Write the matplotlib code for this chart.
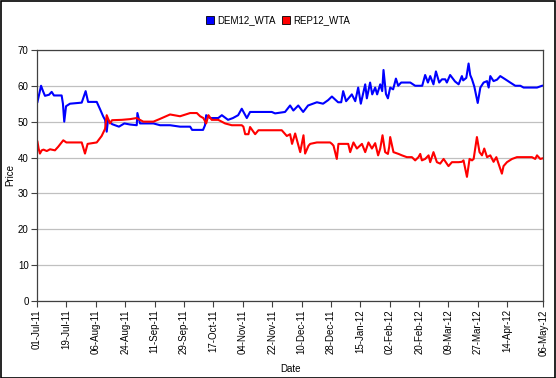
import matplotlib
matplotlib.use('Agg')
import matplotlib.pyplot as plt
from matplotlib.patches import Patch
import pandas as pd

plt.rcParams['font.family'] = ['Liberation Sans', 'DejaVu Sans']

start_date = '2011-07-01'
end_date = '2012-05-06'

# days after 01-Jul-11, price
dem_days = [0.3, 2.5, 3.7, 4.9, 7.4, 9, 10.4, 15.1, 15.9, 16.7, 17.8, 20.2, 27.4, 29.8, 31.3,
            36.6, 38.6, 40.6, 41.7, 42.7, 43.5, 46, 47.8, 50.2, 53.5, 57, 61.1, 61.5, 63.1,
            71.3, 75.4, 81.5, 87.6, 93.8, 95, 101.7, 102.9, 103.6, 106, 111, 113.2, 117, 120,
            123.2, 125.4, 128.5, 130.5, 136.6, 143.8, 145.8, 151.9, 155, 157, 160, 163, 166,
            171.4, 175.2, 178.3, 180.6, 184.4, 186.3, 187.5, 189.3, 192.8, 194.9, 196.7, 198.3,
            201, 202, 204, 205.3, 207.1, 208.3, 210.2, 211.4, 212.2, 213.7, 214.9, 216.3, 218.1,
            219.8, 221.2, 223, 228.6, 231.6, 235.9, 237.7, 239.4, 240.8, 242.8, 244.3, 246.3,
            248, 250, 251, 253, 256, 258.2, 260.2, 261, 262.9, 264.3, 265.3, 266.4, 267.8,
            269.9, 271.5, 273.5, 275.6, 276.6, 277.6, 279.6, 281.7, 283.7, 286.8, 289.8, 292.9,
            296, 298, 306.2, 309.3]
dem_price = [55.5, 60, 58.5, 57.2, 57.5, 58.3, 57.3, 57.3, 55, 50, 54.3, 55, 55.3, 58.5, 55.5,
             55.5, 53.5, 51.4, 50.5, 47.2, 50.5, 49.3, 49, 48.6, 49.5, 49.2, 49, 52.4, 49.5,
             49.5, 49, 49, 48.6, 48.6, 47.7, 47.7, 49, 51.8, 51, 51, 51.8, 50.5, 51,
             51.8, 53.6, 51, 52.7, 52.7, 52.7, 52.3, 52.7, 54.5, 53.1, 54.5, 52.7, 54.5,
             55.4, 55, 56, 57, 55.4, 55.4, 58.5, 55.7, 57.6, 55.7, 59.5, 55,
             60.4, 56.5, 60.9, 57.6, 59.5, 57.6, 60.4, 58.5, 64.4, 57.7, 56.5, 59.5, 59,
             62, 60, 60.9, 60.9, 60, 60, 63, 60.9, 62.7, 60.4, 64, 60.9,
             61.8, 61.8, 60.9, 63, 61.2, 60.4, 62.7, 61.5, 62.2, 66.2, 63, 61.8, 59.8,
             55.2, 59.5, 60.9, 61.3, 59.5, 62.7, 61.3, 61.7, 62.7, 61.8, 60.9, 60,
             60, 59.5, 59.5, 60]

rep_days = [0.3, 1, 1.8, 2.9, 4, 6, 8, 11, 13, 16.1, 18, 27.4, 28.5, 29.4, 31, 36.6, 39.6,
            41.7, 42.7, 44.7, 46, 51.9, 57, 61, 65.1, 71.3, 75, 81.5, 87.6, 93.8, 97.9, 99.9,
            101.9, 103.6, 105, 107, 111, 115.2, 119.3, 125.4, 126.4, 127.5, 129.5, 130.5,
            133.6, 135.6, 149.9, 153, 155, 156.2, 158.1, 161.2, 163.2, 164.2, 166.3, 167.3,
            171.4, 179.5, 180.6, 181.6, 183.6, 184.6, 187.5, 190.6, 191.8, 193.8, 195.9, 199,
            201, 203, 205.1, 207.1, 208.9, 210.2, 211.6, 213.2, 214.9, 215.7, 216.3, 218.3,
            221.4, 223.5, 226.5, 229.6, 231.6, 233.6, 234.7, 235.7, 237.7, 239.8, 240.8,
            242.8, 244.9, 246.9, 249, 252, 254.1, 258.2, 260.2, 261.2, 263.3, 264.9, 266.4,
            267.4, 269.4, 271, 272.5, 273.9, 275.6, 277.6, 279.6, 281.3, 284.7, 285.7, 287.8,
            290.9, 293.9, 303.1, 305.1, 306.2, 308.2, 309.9]
rep_price = [44.4, 42.5, 41.1, 42, 42.2, 41.8, 42.3, 42, 43, 44.8, 44.2, 44.2, 42.5, 41.1, 43.8,
             44.2, 46, 48, 51.8, 49.5, 50.4, 50.5, 50.7, 51, 50, 50, 50.7, 52, 51.5, 52.4, 52.4,
             51.5, 51, 49.5, 51.8, 50.5, 50.5, 49.5, 49, 49, 48.6, 46.5, 46.5, 48.5,
             46.5, 47.6, 47.6, 46, 46.5, 43.8, 46.7, 41.5, 46.2, 41.1, 43.3, 43.8,
             44.2, 44.2, 43.8, 43.3, 39.6, 43.8, 43.8, 43.8, 41.5, 44.2, 42.5, 43.8,
             41.5, 44.2, 42.5, 44, 40.6, 42.5, 46.2, 41.5, 41, 43, 45.7, 41.5,
             41, 40.6, 40.1, 40.1, 39.2, 40.1, 41, 39.2, 39.6, 40.6, 38.7,
             41.5, 38.7, 38.3, 39.6, 37.6, 38.7, 38.7, 38.8, 39.2, 34.6, 39.6, 39.2,
             39.6, 45.7, 41.5, 40.6, 42.5, 40.1, 40.6, 38.8, 40.1, 35.5, 37.6, 38.7,
             39.6, 40.1, 40.1, 39.6, 40.6, 39.6, 39.8]

tick_labels = ['01-Jul-11', '19-Jul-11', '06-Aug-11', '24-Aug-11', '11-Sep-11', '29-Sep-11',
               '17-Oct-11', '04-Nov-11', '22-Nov-11', '10-Dec-11', '28-Dec-11', '15-Jan-12',
               '02-Feb-12', '20-Feb-12', '09-Mar-12', '27-Mar-12', '14-Apr-12', '06-May-12']


def to_dates(days):
    return pd.Timestamp(start_date) + pd.to_timedelta(days, unit='D')


fig = plt.figure(figsize=(5.56, 3.78), dpi=100)
ax = fig.add_axes([0.0665, 0.2037, 0.9105, 0.6643])

ax.plot(to_dates(dem_days), dem_price, color='#0000FF', lw=1.5, label='DEM12_WTA')
ax.plot(to_dates(rep_days), rep_price, color='#FF0000', lw=1.5, label='REP12_WTA')

ax.set_xlim(pd.Timestamp(start_date), pd.Timestamp(end_date))
ax.set_ylim(0, 70)
ax.set_yticks(range(0, 71, 10))
ax.yaxis.grid(True, color='#C0C0C0', lw=0.9)
ax.set_axisbelow(True)

ticks = pd.to_datetime(tick_labels, format='%d-%b-%y')
ax.set_xticks(ticks)
ax.set_xticklabels(tick_labels, rotation=90)

ax.tick_params(axis='both', labelsize=7, length=4, width=0.8, color='#404040', pad=2)
for s in ax.spines.values():
    s.set_color('#404040')
    s.set_linewidth(0.9)

ax.set_xlabel('Date', fontsize=7, labelpad=6)
ax.set_ylabel('Price', fontsize=7, labelpad=2)

handles = [Patch(facecolor='#0000FF', edgecolor='black', lw=0.6),
           Patch(facecolor='#FF0000', edgecolor='black', lw=0.6)]
fig.legend(handles, ['DEM12_WTA', 'REP12_WTA'], loc='center', bbox_to_anchor=(0.5, 0.947),
           ncol=2, frameon=False, fontsize=7, handlelength=0.8, handleheight=0.9,
           handletextpad=0.3, columnspacing=0.7)

fig.patches.append(plt.Rectangle((0.001, 0.001), 0.997, 0.996, transform=fig.transFigure,
                                 fill=False, edgecolor='black', lw=1.2))

fig.savefig('out.png', dpi=100)
